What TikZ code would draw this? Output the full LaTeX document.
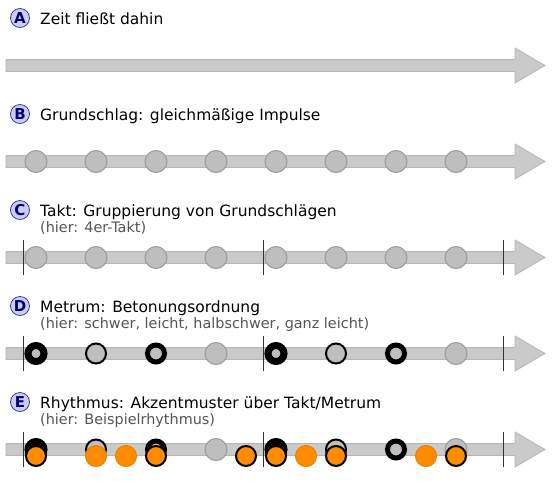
\documentclass[tikz,border=0pt]{standalone}
\usepackage{fontspec}
\setmainfont{DejaVu Sans}
\usepackage{tikz}
\usetikzlibrary{positioning}

\definecolor{shaftgray}{HTML}{CACACA}
\definecolor{shaftedge}{HTML}{B6B6B6}
\definecolor{beatgray}{HTML}{BEBEBE}
\definecolor{beatedge}{HTML}{9A9A9A}
\definecolor{badgefill}{HTML}{CCCCF4}
\definecolor{badgeedge}{HTML}{3C3C96}
\definecolor{badgetext}{HTML}{00006E}
\definecolor{notefill}{HTML}{FF8C00}
\definecolor{noteedge}{HTML}{E88000}
\definecolor{subgray}{HTML}{555555}

\tikzset{
  beat/.style={circle, inner sep=0pt, minimum size=22pt, fill=beatgray, draw=beatedge, line width=1pt},
  leicht/.style={beat, minimum size=20pt, draw=black, line width=2pt},
  halbschwer/.style={beat, minimum size=17pt, draw=black, line width=5pt},
  schwer/.style={beat, minimum size=16pt, draw=black, line width=7pt},
  note/.style={circle, inner sep=0pt, minimum size=20pt, fill=notefill, draw=black, line width=2pt},
  offnote/.style={note, minimum size=21pt, draw=noteedge, line width=1pt},
  badge/.style={circle, inner sep=0pt, minimum size=19pt, fill=badgefill, draw=badgeedge, line width=0.8pt, text=badgetext, font=\fontsize{15}{15}\selectfont\bfseries},
  title/.style={anchor=base west, inner sep=0pt, font=\fontsize{15.5}{18}\selectfont},
  subtitle/.style={anchor=base west, inner sep=0pt, text=subgray, font=\fontsize{14.4}{17}\selectfont},
  bar/.style={draw=black!80, line width=1.5pt},
}

\begin{document}
\begin{tikzpicture}[x=1pt,y=-1pt]
        \useasboundingbox (0,0) rectangle (552,480);
        % time arrows
        \foreach \y in {65.5,161.5,257.5,353.5,449.5}
          \filldraw[fill=shaftgray, draw=shaftedge, line width=0.8pt]
            (6,\y-6) -- (515,\y-6) -- (515,\y-17.5) -- (545,\y)
            -- (515,\y+17.5) -- (515,\y+6) -- (6,\y+6) -- cycle;
        % bar lines
        \foreach \y in {257.5,353.5,449.5}
          \foreach \x in {23.5,263.5,503.5}
            \draw[bar] (\x,\y-17.5) -- (\x,\y+17.5);

        \node[badge] (ba) at (20,18) {A};
        \node[title] (ta) at (40,24) {Zeit fließt dahin};

        \node[badge] (bb) at (20,114) {B};
        \node[title] (tb) at (40,120) {Grundschlag: gleichmäßige Impulse};
        \foreach \i in {0,...,7}
          \node[beat] (b\i) at (36+60*\i,161.5) {};

        \node[badge] (bc) at (20,210) {C};
        \node[title] (tc) at (40,216) {Takt: Gruppierung von Grundschlägen};
        \node[subtitle] (sc) at ([yshift=-16pt]tc.base west) {(hier: 4er-Takt)};
        \foreach \i in {0,...,7}
          \node[beat] (c\i) at (36+60*\i,257.5) {};

        \node[badge] (bd) at (20,306) {D};
        \node[title] (td) at (40,312) {Metrum: Betonungsordnung};
        \node[subtitle] (sd) at ([yshift=-16pt]td.base west) {(hier: schwer, leicht, halbschwer, ganz leicht)};
        \foreach \i/\s in {0/schwer,1/leicht,2/halbschwer,3/beat,4/schwer,5/leicht,6/halbschwer,7/beat}
          \node[\s] (d\i) at (36+60*\i,353.5) {};

        \node[badge] (be) at (20,402) {E};
        \node[title] (te) at (40,408) {Rhythmus: Akzentmuster über Takt/Metrum};
        \node[subtitle] (se) at ([yshift=-16pt]te.base west) {(hier: Beispielrhythmus)};
        \foreach \i/\s in {0/schwer,1/leicht,2/halbschwer,3/beat,4/schwer,5/leicht,6/halbschwer,7/beat}
          \node[\s] (e\i) at (36+60*\i,449.5) {};
        % rhythm notes
        \foreach \x/\s [count=\n] in {36/note,96/offnote,126/offnote,156/note,246/note,276/note,306/offnote,336/note,426/offnote,456/note}
          \node[\s] (n\n) at (\x,456) {};
\end{tikzpicture}
\end{document}
